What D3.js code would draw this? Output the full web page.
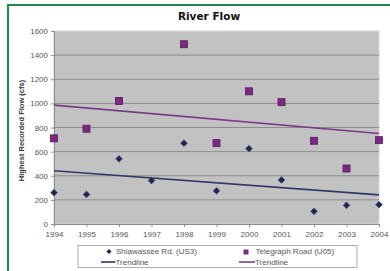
<!DOCTYPE html>
<html>
<head>
<meta charset="utf-8">
<script src="https://cdn.jsdelivr.net/npm/d3@7"></script>
<style>
  body { margin: 0; background: #fff; }
  svg { display: block; }
</style>
</head>
<body>
<div id="chart"></div>
<script>
// Daten
var years = [1994, 1995, 1996, 1997, 1998, 1999, 2000, 2001, 2002, 2003, 2004];
var shiawassee = [260, 245, 540, 360, 670, 275, 625, 365, 105, 155, 160];
var telegraphYears = [1994, 1995, 1996, 1998, 1999, 2000, 2001, 2002, 2003, 2004];
var telegraph = [710, 790, 1020, 1490, 670, 1100, 1010, 690, 460, 695];
var yTicks = [0, 200, 400, 600, 800, 1000, 1200, 1400, 1600];

var width = 390, height = 271;
var margin = {top: 31, right: 11, bottom: 47, left: 54};

var svg = d3.select("#chart").append("svg")
    .attr("width", width)
    .attr("height", height);

// Rahmen (grün, rechts/unten abgeschnitten)
svg.append("rect")
    .attr("x", 8).attr("y", 5)
    .attr("width", 400).attr("height", 300)
    .attr("fill", "none")
    .attr("stroke", "#23864d")
    .attr("stroke-width", 2);

var x = d3.scaleLinear().domain([1994, 2004]).range([margin.left, width - margin.right]);
var y = d3.scaleLinear().domain([0, 1600]).range([height - margin.bottom, margin.top]);

// Plotfläche
svg.append("rect")
    .attr("x", x(1994)).attr("y", y(1600))
    .attr("width", x(2004) - x(1994)).attr("height", y(0) - y(1600))
    .attr("fill", "#c2c2c2")
    .attr("stroke", "#d8d8d8");

// Gitterlinien
svg.selectAll(".grid")
    .data(yTicks.filter(function(d){ return d > 0 && d < 1600; }))
    .enter().append("line")
    .attr("x1", x(1994)).attr("x2", x(2004))
    .attr("y1", function(d){ return y(d); })
    .attr("y2", function(d){ return y(d); })
    .attr("stroke", "#8c8c8c")
    .attr("stroke-width", 1);

// Achsen
var xAxis = svg.append("g")
    .attr("transform", "translate(0," + y(0) + ")")
    .call(d3.axisBottom(x).tickValues(years).tickFormat(d3.format("d")).tickSize(3).tickPadding(4));
var yAxis = svg.append("g")
    .attr("transform", "translate(" + x(1994) + ",0)")
    .call(d3.axisLeft(y).tickValues(yTicks).tickFormat(d3.format("d")).tickSize(3).tickPadding(3));

[xAxis, yAxis].forEach(function(a) {
    a.select(".domain").attr("stroke", "#8c8c8c");
    a.selectAll(".tick line").attr("stroke", "#8c8c8c");
    a.selectAll("text")
        .attr("font-family", "Liberation Sans, Arial, sans-serif")
        .attr("font-size", "8px")
        .attr("fill", "#555");
});

// Trendlinien (lineare Regression wie in Excel)
function trend(xs, ys) {
    var mx = d3.mean(xs), my = d3.mean(ys);
    var sxy = d3.sum(xs, function(v, i){ return (v - mx) * (ys[i] - my); });
    var sxx = d3.sum(xs, function(v){ return (v - mx) * (v - mx); });
    var b = sxy / sxx, a = my - b * mx;
    return [[1994, a + b * 1994], [2004, a + b * 2004]];
}
var line = d3.line().x(function(d){ return x(d[0]); }).y(function(d){ return y(d[1]); });

svg.append("path")
    .attr("d", line(trend(telegraphYears, telegraph)))
    .attr("stroke", "#7a3a88").attr("stroke-width", 1.6).attr("fill", "none");
svg.append("path")
    .attr("d", line(trend(years, shiawassee)))
    .attr("stroke", "#2e3868").attr("stroke-width", 1.6).attr("fill", "none");

// Punkte
svg.selectAll(".sq")
    .data(telegraph)
    .enter().append("rect")
    .attr("x", function(d, i){ return x(telegraphYears[i]) - 3.5; })
    .attr("y", function(d){ return y(d) - 3.5; })
    .attr("width", 7).attr("height", 7)
    .attr("fill", "#7c2a80")
    .attr("stroke", "#5a1560").attr("stroke-width", 0.8);

// Rauten: gedrehte Quadrate
svg.selectAll(".dia")
    .data(shiawassee)
    .enter().append("rect")
    .attr("x", -2.4).attr("y", -2.4)
    .attr("width", 4.8).attr("height", 4.8)
    .attr("transform", function(d, i){ return "translate(" + x(years[i]) + "," + y(d) + ") rotate(45)"; })
    .attr("fill", "#1e2652")
    .attr("stroke", "#3a4a70").attr("stroke-width", 0.6);

// Titel
svg.append("text")
    .attr("x", 209).attr("y", 19.5)
    .attr("text-anchor", "middle")
    .attr("font-family", "DejaVu Sans, Verdana, sans-serif")
    .attr("font-weight", "bold")
    .attr("font-size", "10.5px")
    .attr("fill", "#111")
    .text("River Flow");

// Y-Achsentitel
svg.append("text")
    .attr("transform", "translate(24," + (y(800) + 3) + ") rotate(-90)")
    .attr("text-anchor", "middle")
    .attr("font-family", "Liberation Sans, Arial, sans-serif")
    .attr("font-weight", "bold")
    .attr("font-size", "7.5px")
    .attr("fill", "#333")
    .text("Highest Recorded Flow (cfs)");

// Legende
var legend = svg.append("g");
legend.append("rect")
    .attr("x", 78).attr("y", 245.5)
    .attr("width", 279).attr("height", 22)
    .attr("fill", "#fff").attr("stroke", "#999").attr("stroke-width", 0.8);

var legendFont = function(sel) {
    sel.attr("font-family", "Liberation Sans, Arial, sans-serif")
       .attr("font-size", "8px")
       .attr("fill", "#555");
};

legend.append("rect")
    .attr("x", -1.8).attr("y", -1.8).attr("width", 3.6).attr("height", 3.6)
    .attr("transform", "translate(109,251.5) rotate(45)")
    .attr("fill", "#1e2652");
legend.append("text").attr("x", 116).attr("y", 254.3).text("Shiawassee Rd. (US3)").call(legendFont);
legend.append("line").attr("x1", 101).attr("x2", 115.5).attr("y1", 262).attr("y2", 262)
    .attr("stroke", "#2e3868").attr("stroke-width", 1.6);
legend.append("text").attr("x", 115.5).attr("y", 264.5).text("Trendline").call(legendFont);

legend.append("rect")
    .attr("x", 243.5).attr("y", 249.5).attr("width", 5).attr("height", 5)
    .attr("fill", "#7c2a80");
legend.append("text").attr("x", 255.5).attr("y", 254.3).text("Telegraph Road (U05)").call(legendFont);
legend.append("line").attr("x1", 239).attr("x2", 255).attr("y1", 262).attr("y2", 262)
    .attr("stroke", "#7a3a88").attr("stroke-width", 1.6);
legend.append("text").attr("x", 255).attr("y", 264.5).text("Trendline").call(legendFont);
</script>
</body>
</html>
